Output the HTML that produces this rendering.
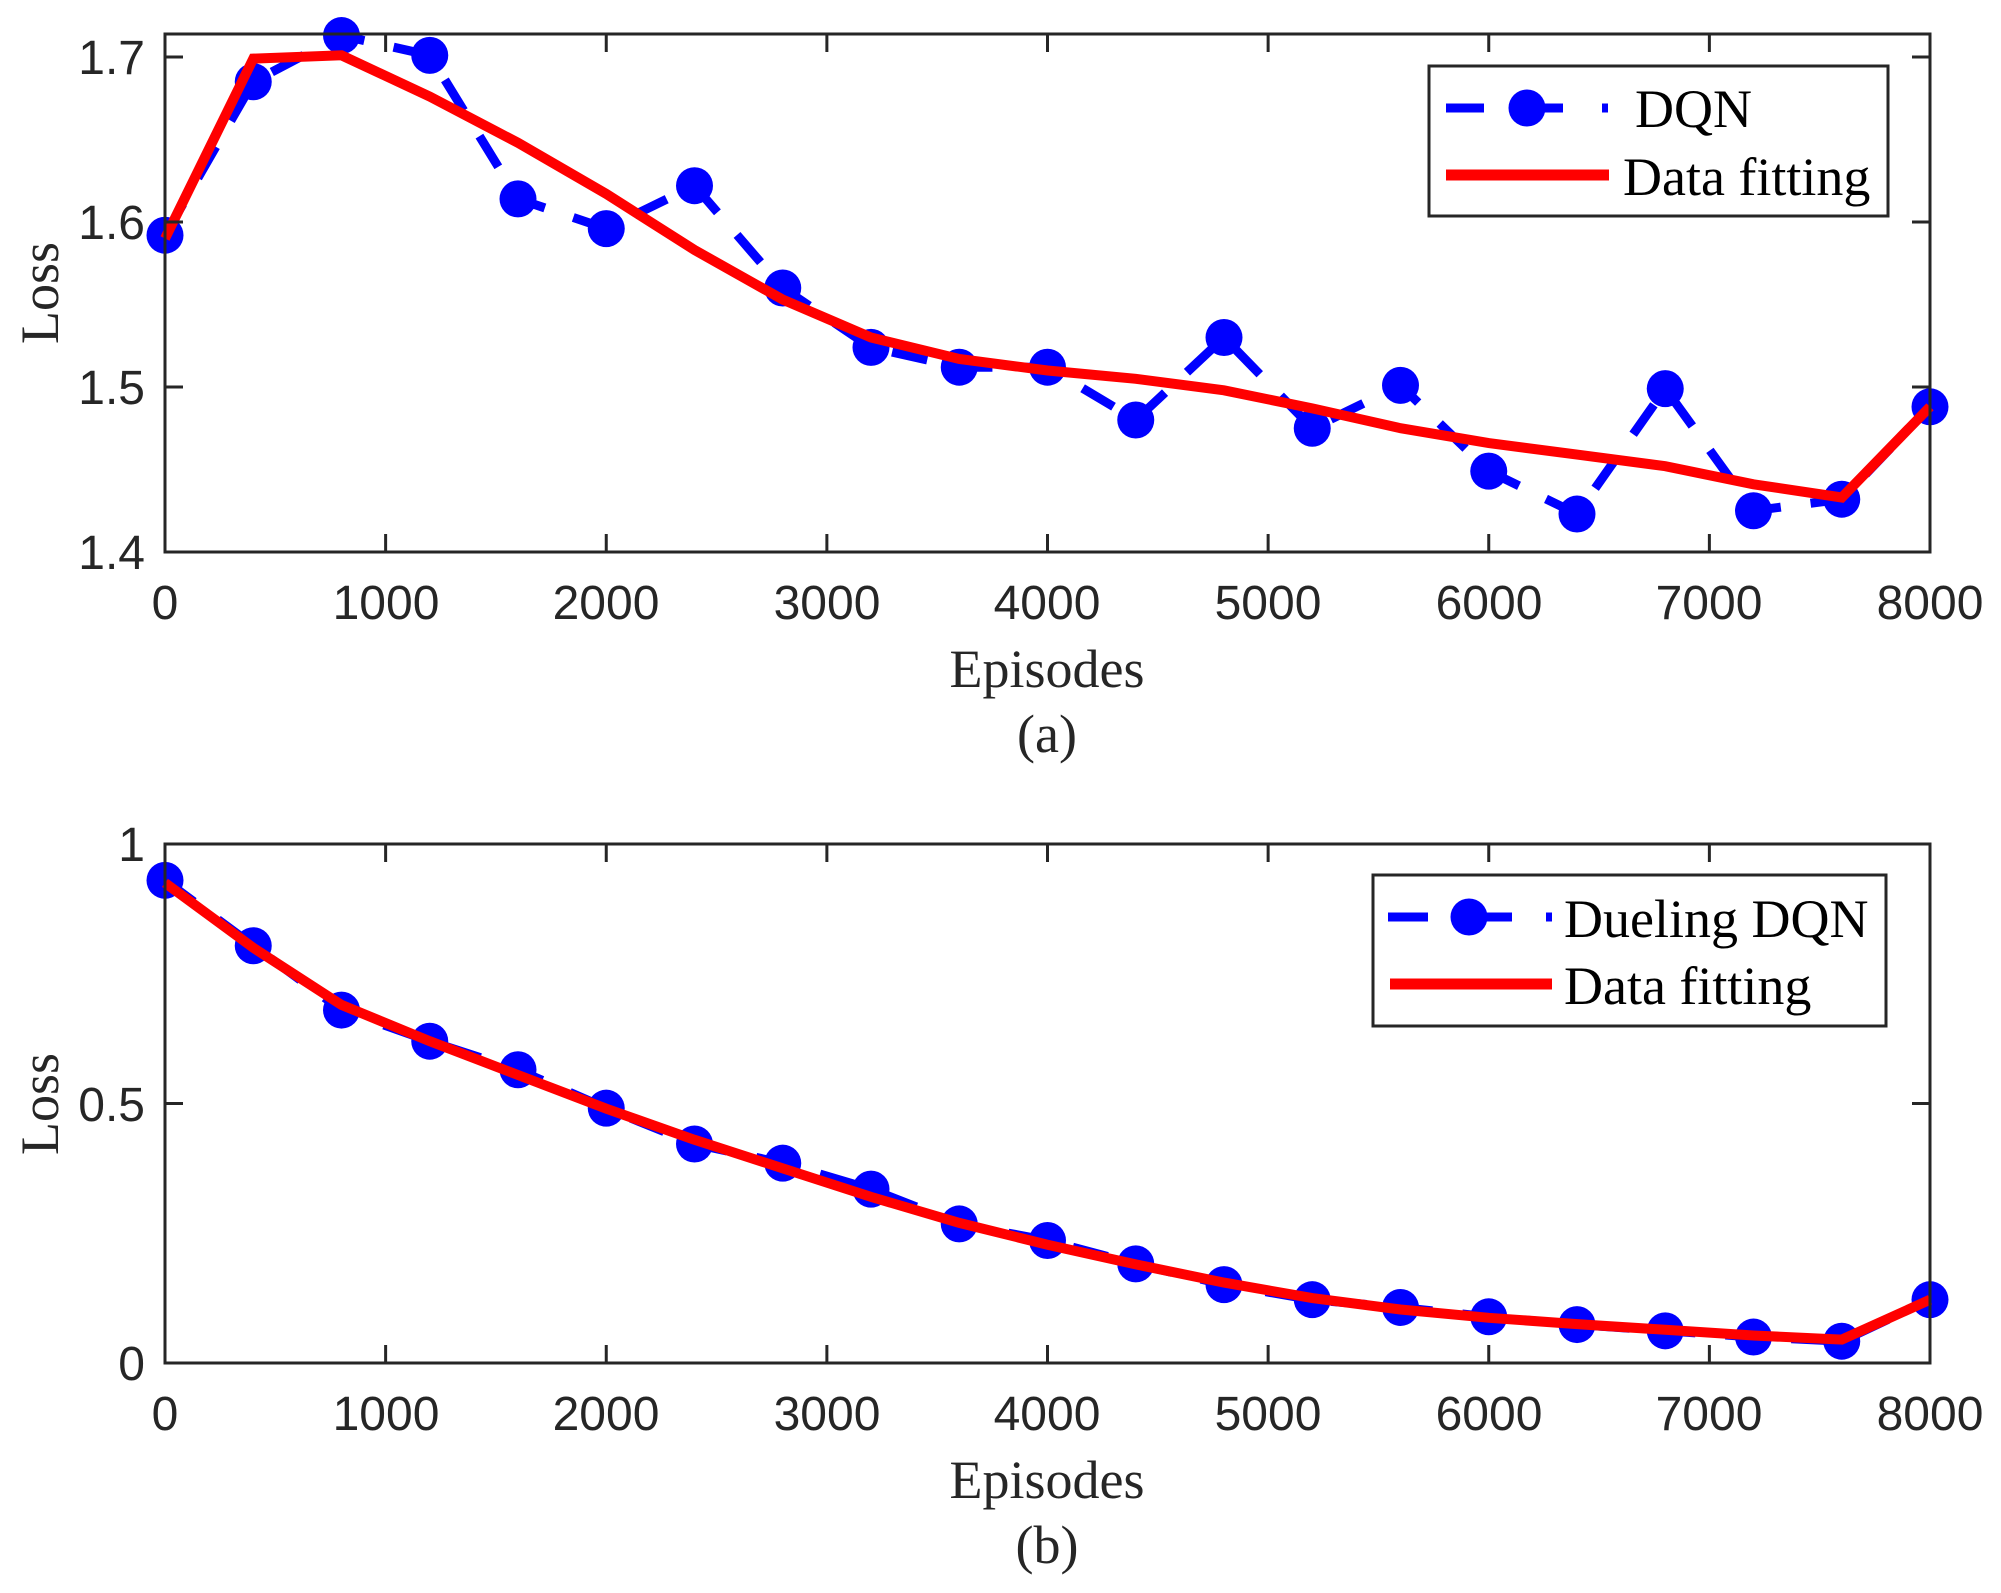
<!DOCTYPE html>
<html><head><meta charset="utf-8"><style>
html,body{margin:0;padding:0;background:#fff}
svg{display:block}
.tk{font-family:"Liberation Sans",sans-serif;font-size:48px;fill:#262626}
.tt{font-family:"Liberation Serif",serif;font-size:54px;fill:#262626}
.lg{font-family:"Liberation Serif",serif;font-size:54px;fill:#000}
</style></head><body>
<svg id="s" width="2001" height="1593" viewBox="0 0 2001 1593" xmlns="http://www.w3.org/2000/svg">
<g id="plots"></g>
<rect x="165" y="34" width="1765" height="518" fill="none" stroke="#262626" stroke-width="3"/>
<rect x="165" y="844" width="1765" height="519" fill="none" stroke="#262626" stroke-width="3"/>
<g id="ticks" stroke="#262626" stroke-width="3"></g>
<g class="tk" text-anchor="middle">
<text x="165" y="619">0</text><text x="386" y="619">1000</text><text x="606" y="619">2000</text><text x="827" y="619">3000</text><text x="1047" y="619">4000</text><text x="1268" y="619">5000</text><text x="1489" y="619">6000</text><text x="1709" y="619">7000</text><text x="1930" y="619">8000</text>
<text x="165" y="1430">0</text><text x="386" y="1430">1000</text><text x="606" y="1430">2000</text><text x="827" y="1430">3000</text><text x="1047" y="1430">4000</text><text x="1268" y="1430">5000</text><text x="1489" y="1430">6000</text><text x="1709" y="1430">7000</text><text x="1930" y="1430">8000</text>
</g>
<g class="tk" text-anchor="end">
<text x="145" y="74">1.7</text><text x="145" y="239">1.6</text><text x="145" y="404">1.5</text><text x="145" y="569">1.4</text>
<text x="145" y="861">1</text><text x="145" y="1121">0.5</text><text x="145" y="1380">0</text>
</g>
<g class="tt" text-anchor="middle">
<text x="1047" y="687">Episodes</text><text x="1047" y="752">(a)</text>
<text x="1047" y="1498">Episodes</text><text x="1047" y="1563">(b)</text>
<text transform="translate(58,293) rotate(-90)">Loss</text>
<text transform="translate(58,1104) rotate(-90)">Loss</text>
</g>
<rect x="1429" y="66" width="459" height="150" fill="#fff" stroke="#262626" stroke-width="3"/>
<line x1="1446" y1="108" x2="1484" y2="108" stroke="#0000ff" stroke-width="9"/>
<line x1="1527" y1="108" x2="1563" y2="108" stroke="#0000ff" stroke-width="9"/>
<line x1="1602" y1="108" x2="1608" y2="108" stroke="#0000ff" stroke-width="9"/>
<circle cx="1527" cy="108" r="18.5" fill="#0000ff"/>
<text class="lg" x="1635" y="127">DQN</text>
<line x1="1446" y1="175" x2="1609" y2="175" stroke="#ff0000" stroke-width="11"/>
<text class="lg" x="1623" y="195">Data fitting</text>
<rect x="1373" y="875" width="513" height="151" fill="#fff" stroke="#262626" stroke-width="3"/>
<line x1="1388" y1="917" x2="1428" y2="917" stroke="#0000ff" stroke-width="9"/>
<line x1="1469" y1="917" x2="1512" y2="917" stroke="#0000ff" stroke-width="9"/>
<line x1="1546" y1="917" x2="1552" y2="917" stroke="#0000ff" stroke-width="9"/>
<circle cx="1469" cy="917" r="18.5" fill="#0000ff"/>
<text class="lg" x="1564" y="937">Dueling DQN</text>
<line x1="1390" y1="984" x2="1552" y2="984" stroke="#ff0000" stroke-width="11"/>
<text class="lg" x="1564" y="1004">Data fitting</text>
</svg>
<script>
(function(){
var NS="http://www.w3.org/2000/svg";
var g=document.getElementById("plots"),tg=document.getElementById("ticks");
function X(e){return 165+e/8000*1765;}
function el(n,a,p){var e=document.createElementNS(NS,n);for(var k in a)e.setAttribute(k,a[k]);(p||g).appendChild(e);return e;}
var dqn=[1.592,1.685,1.713,1.701,1.614,1.596,1.622,1.560,1.524,1.512,1.512,1.480,1.530,1.475,1.501,1.449,1.423,1.499,1.425,1.432,1.488];
var fa=[1.590,1.699,1.701,1.676,1.648,1.617,1.583,1.553,1.530,1.517,1.510,1.505,1.498,1.487,1.475,1.466,1.459,1.452,1.441,1.433,1.488];
var dd=[0.930,0.804,0.680,0.620,0.565,0.491,0.422,0.385,0.335,0.268,0.236,0.191,0.151,0.122,0.107,0.089,0.074,0.062,0.050,0.042,0.122];
var fb=[0.925,0.800,0.690,0.620,0.555,0.490,0.430,0.375,0.320,0.270,0.228,0.190,0.155,0.125,0.103,0.087,0.075,0.064,0.053,0.045,0.122];
function YA(v){return 57+(1.7-v)*1650;}
function YB(v){return 1363-v*519;}
function pts(d,f){return d.map(function(v,i){return X(i*400).toFixed(1)+","+f(v).toFixed(1);}).join(" ");}
[[dqn,fa,YA],[dd,fb,YB]].forEach(function(s){
 el("polyline",{points:pts(s[0],s[2]),fill:"none",stroke:"#0000ff","stroke-width":9,"stroke-dasharray":"36 30"});
 s[0].forEach(function(v,i){el("circle",{cx:X(i*400),cy:s[2](v),r:18.5,fill:"#0000ff"});});
 el("polyline",{points:pts(s[1],s[2]),fill:"none",stroke:"#ff0000","stroke-width":10,"stroke-linejoin":"miter"});
});
[[34,552],[844,1363]].forEach(function(b){
 for(var e=1000;e<8000;e+=1000){var x=X(e);
  el("line",{x1:x,y1:b[1],x2:x,y2:b[1]-18},tg);
  el("line",{x1:x,y1:b[0],x2:x,y2:b[0]+18},tg);}
});
[57,222,387,1103.5].forEach(function(y){el("line",{x1:165,y1:y,x2:183,y2:y},tg);el("line",{x1:1930,y1:y,x2:1912,y2:y},tg);});
})();
</script>
</body></html>
